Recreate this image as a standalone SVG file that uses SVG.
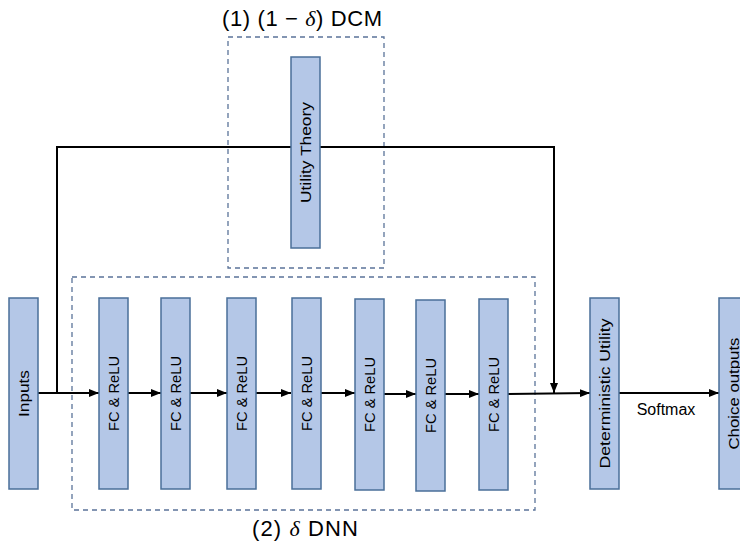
<svg xmlns="http://www.w3.org/2000/svg" width="740" height="548" viewBox="0 0 740 548">
<style>
.box{fill:#b4c7e7;stroke:#4a6f99;stroke-width:1.5}
.lbl{font-family:"Liberation Sans",Arial,sans-serif;font-size:15px;fill:#000;text-anchor:middle;dominant-baseline:central}
.dash{fill:none;stroke:#5b7399;stroke-width:1.3;stroke-dasharray:5,4}
.ln{fill:none;stroke:#000;stroke-width:2}
.ttl{font-family:"Liberation Sans",Arial,sans-serif;font-size:22px;fill:#000}
</style>
<defs>
<marker id="ah" markerWidth="10" markerHeight="8" refX="10" refY="4" orient="auto" markerUnits="userSpaceOnUse">
<path d="M0,0 L10,4 L0,8 Z" fill="#000"/>
</marker>
</defs>
<rect x="0" y="0" width="740" height="548" fill="#fff"/>
<g id="dcm-group">
<rect class="dash" x="228" y="37" width="156" height="231"/>
<text class="ttl" x="302" y="26" text-anchor="middle" textLength="160" lengthAdjust="spacing">(1) (1 − <tspan font-family="Liberation Serif,serif" font-style="italic">δ</tspan>) DCM</text>
</g>
<g id="dnn-group">
<rect class="dash" x="72" y="277" width="463" height="233"/>
<text class="ttl" x="305" y="536" text-anchor="middle" textLength="106" lengthAdjust="spacing">(2) <tspan font-family="Liberation Serif,serif" font-style="italic">δ</tspan> DNN</text>
</g>
<g id="connectors">
<path class="ln" d="M57,393 V147 H554 V385"/>
<line class="ln" x1="554" y1="384" x2="554" y2="393" marker-end="url(#ah)"/>
<line class="ln" x1="38" y1="393" x2="99" y2="393" marker-end="url(#ah)"/>
<line class="ln" x1="128" y1="393" x2="161" y2="393" marker-end="url(#ah)"/>
<line class="ln" x1="190" y1="393" x2="227" y2="393" marker-end="url(#ah)"/>
<line class="ln" x1="256" y1="393" x2="291" y2="393" marker-end="url(#ah)"/>
<line class="ln" x1="321" y1="393" x2="355" y2="393" marker-end="url(#ah)"/>
<line class="ln" x1="384" y1="394" x2="416" y2="394" marker-end="url(#ah)"/>
<line class="ln" x1="445" y1="394" x2="479" y2="394" marker-end="url(#ah)"/>
<line class="ln" x1="508" y1="394" x2="590" y2="393" marker-end="url(#ah)"/>
<line class="ln" x1="619" y1="393" x2="719" y2="393" marker-end="url(#ah)"/>
<text class="lbl" x="666" y="409" style="font-size:16px">Softmax</text>
</g>
<g id="utility-theory">
<rect class="box" x="291" y="57" width="29" height="191"/>
<text class="lbl" transform="translate(305.5,152.5) rotate(-90)" textLength="101" lengthAdjust="spacingAndGlyphs">Utility Theory</text>
</g>
<g id="inputs">
<rect class="box" x="9" y="298" width="29" height="191"/>
<text class="lbl" transform="translate(23.5,393.5) rotate(-90)" textLength="47" lengthAdjust="spacingAndGlyphs">Inputs</text>
</g>
<g id="fc1">
<rect class="box" x="99" y="298" width="29" height="191"/>
<text class="lbl" transform="translate(113.5,393.5) rotate(-90)" textLength="75" lengthAdjust="spacingAndGlyphs">FC &amp; ReLU</text>
</g>
<g id="fc2">
<rect class="box" x="161" y="298" width="29" height="191"/>
<text class="lbl" transform="translate(175.5,393.5) rotate(-90)" textLength="75" lengthAdjust="spacingAndGlyphs">FC &amp; ReLU</text>
</g>
<g id="fc3">
<rect class="box" x="227" y="298" width="29" height="191"/>
<text class="lbl" transform="translate(241.5,393.5) rotate(-90)" textLength="75" lengthAdjust="spacingAndGlyphs">FC &amp; ReLU</text>
</g>
<g id="fc4">
<rect class="box" x="292" y="298" width="29" height="191"/>
<text class="lbl" transform="translate(306.5,393.5) rotate(-90)" textLength="75" lengthAdjust="spacingAndGlyphs">FC &amp; ReLU</text>
</g>
<g id="fc5">
<rect class="box" x="355" y="299" width="29" height="191"/>
<text class="lbl" transform="translate(369.5,394.5) rotate(-90)" textLength="75" lengthAdjust="spacingAndGlyphs">FC &amp; ReLU</text>
</g>
<g id="fc6">
<rect class="box" x="416" y="300" width="29" height="191"/>
<text class="lbl" transform="translate(430.5,395.5) rotate(-90)" textLength="75" lengthAdjust="spacingAndGlyphs">FC &amp; ReLU</text>
</g>
<g id="fc7">
<rect class="box" x="479" y="299" width="29" height="191"/>
<text class="lbl" transform="translate(493.5,394.5) rotate(-90)" textLength="75" lengthAdjust="spacingAndGlyphs">FC &amp; ReLU</text>
</g>
<g id="deterministic-utility">
<rect class="box" x="590" y="298" width="29" height="191"/>
<text class="lbl" transform="translate(604.5,393.5) rotate(-90)" textLength="150" lengthAdjust="spacingAndGlyphs">Deterministic Utility</text>
</g>
<g id="choice-outputs">
<rect class="box" x="719" y="298" width="29" height="191"/>
<text class="lbl" transform="translate(733.5,393.5) rotate(-90)" textLength="112" lengthAdjust="spacingAndGlyphs">Choice outputs</text>
</g>
</svg>
